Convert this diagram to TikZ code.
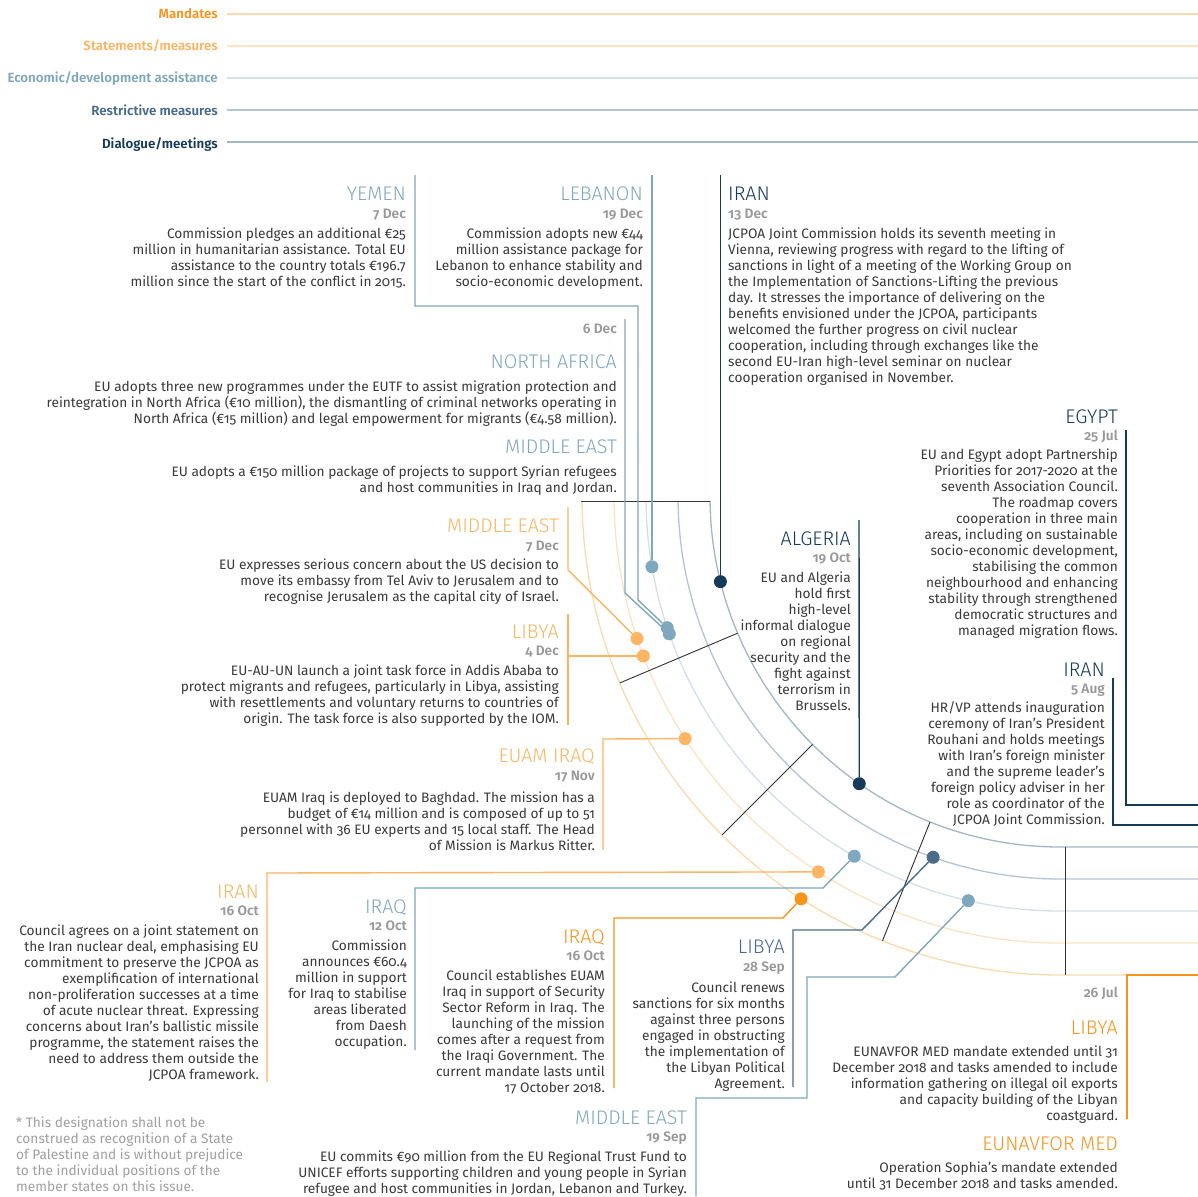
\documentclass[tikz,border=0pt]{standalone}
\usepackage{fontspec}
\setmainfont{Fira Sans}[Numbers=OldStyle]
\newfontfamily\titlef{Fira Sans Light}[Numbers=OldStyle]
\newfontfamily\semif{Fira Sans SemiBold}[Numbers=OldStyle]

\definecolor{mand}{HTML}{F7941D}
\definecolor{stat}{HTML}{FBB563}
\definecolor{econ}{HTML}{7FA7BE}
\definecolor{restr}{HTML}{4A6B89}
\definecolor{dial}{HTML}{163A5A}
\definecolor{mandL}{HTML}{FCD9AE}
\definecolor{statL}{HTML}{FDE3C4}
\definecolor{econL}{HTML}{D3E0E8}
\definecolor{restrL}{HTML}{B4C4D1}
\definecolor{dialL}{HTML}{A3B6C6}
\definecolor{dategrey}{HTML}{999999}
\definecolor{bodygrey}{HTML}{3A3A3A}
\definecolor{notegrey}{HTML}{A0A0A0}
\definecolor{sepgrey}{HTML}{333333}

\newcommand{\rtab}[1]{\begin{tabular}[t]{@{}r@{}}#1\end{tabular}}
\newcommand{\ltab}[1]{\begin{tabular}[t]{@{}l@{}}#1\end{tabular}}

\begin{document}
\begin{tikzpicture}[x=1pt,y=-1pt,
  ttl/.style={font=\titlef\fontsize{19.7}{22}\selectfont, inner sep=0pt, anchor=base east},
  dte/.style={font=\semif\fontsize{13.7}{16}\selectfont, text=dategrey, inner sep=0pt, anchor=base east},
  bdy/.style={font=\fontsize{13.7}{16}\selectfont, text=bodygrey, inner sep=0pt, anchor=base east},
  lgd/.style={font=\semif\fontsize{13.3}{16}\selectfont, inner sep=0pt, anchor=base east},
  legline/.style={line width=1.5pt},
  track/.style={line width=1.3pt},
  link/.style={line width=1.4pt},
  sepline/.style={line width=0.9pt, draw=sepgrey},
  dot/.style={circle, fill=#1, inner sep=0pt, minimum size=13pt},
]
\fill[white] (0,0) rectangle (1198,1196);
\useasboundingbox (0,0) rectangle (1198,1196);

% ---------- legend ----------
\node[lgd, text=mand]  (lgM) at (218,19)  {Mandates};
\node[lgd, text=stat]  (lgS) at (218,51)  {Statements/measures};
\node[lgd, text=econ]  (lgE) at (218,83)  {Economic/development assistance};
\node[lgd, text=restr] (lgR) at (218,116) {Restrictive measures};
\node[lgd, text=dial]  (lgD) at (218,148) {Dialogue/meetings};
\foreach \yy/\c in {14/mandL, 46/statL, 78/econL, 110/restrL, 142/dialL}
  \draw[legline, draw=\c] (227,\yy) -- (1198,\yy);

% ---------- timeline tracks ----------
\foreach \r/\c in {478/mandL, 446/statL, 414/econL, 382/restrL, 350/dialL}
  \draw[track, draw=\c] plot[domain=0.6:90, samples=90, smooth]
     ({1060-\r*cos(\x)},{497+\r*sin(\x)}) -- (1198,{497+\r});

% month separators
\draw[sepline] (581,501) -- (710,501);
\foreach \a in {22.9,45,68.2}
  \draw[sepline] ({1060-350*cos(\a)},{497+350*sin(\a)}) -- ({1060-478*cos(\a)},{497+478*sin(\a)});
\draw[sepline] (1065,847) -- (1065,975);

% ---------- event dots ----------
\node[dot=econ]  (dLeb)  at ({1060-414*cos(9.7)},{497+414*sin(9.7)}) {};
\node[dot=dial]  (dIr13) at ({1060-350*cos(14)},{497+350*sin(14)}) {};
\node[dot=econ]  (dNAf)  at ({1060-414*cos(19.3)},{497+414*sin(19.3)}) {};
\node[dot=econ]  (dYem)  at ({1060-414*cos(18.4)},{497+414*sin(18.4)}) {};
\node[dot=stat]  (dME7)  at ({1060-446*cos(18.5)},{497+446*sin(18.5)}) {};
\node[dot=stat]  (dLib4) at ({1060-446*cos(20.89)},656) {};
\node[dot=stat]  (dEUAM) at ({1060-446*cos(32.8)},{497+446*sin(32.8)}) {};
\node[dot=dial]  (dAlg)  at ({1060-350*cos(55)},{497+350*sin(55)}) {};
\node[dot=stat]  (dIr16) at ({1060-446*cos(57.2)},{497+446*sin(57.2)}) {};
\node[dot=econ]  (dIq12) at ({1060-414*cos(60.2)},{497+414*sin(60.2)}) {};
\node[dot=mand]  (dIq16) at ({1060-478*cos(57.2)},{497+478*sin(57.2)}) {};
\node[dot=restr] (dLy28) at ({1060-382*cos(70.6)},{497+382*sin(70.6)}) {};
\node[dot=econ]  (dME19) at ({1060-414*cos(77.2)},{497+414*sin(77.2)}) {};

% ---------- connector corners ----------
\coordinate (topline) at (0,175);
\coordinate (yemA) at (415,175);
\coordinate (yemB) at (415,306);
\coordinate (yemC) at (638,306);
\coordinate (yemD) at (638,600);
\coordinate (nafA) at (625,319);
\coordinate (nafB) at (625,593);
\coordinate (me7A) at (568,507);
\coordinate (me7B) at (568,570);
\coordinate (ly4A) at (568,614);
\coordinate (ly4B) at (568,725);
\coordinate (ly4C) at (568,656);
\coordinate (euA) at (603,850);
\coordinate (euB) at (603,739);
\coordinate (algA) at (859,520);
\coordinate (egA) at (1126,430);
\coordinate (egB) at (1126,805);
\coordinate (egC) at (1198,805);
\coordinate (ir5A) at (1113,678);
\coordinate (ir5B) at (1113,825);
\coordinate (ir5C) at (1198,825);
\coordinate (ir16A) at (267,1082);
\coordinate (ir16B) at (267,873);
\coordinate (iq12A) at (415,1050);
\coordinate (iq12B) at (415,888);
\coordinate (iq12C) at (823,888);
\coordinate (iq16A) at (614,1088);
\coordinate (iq16B) at (614,918);
\coordinate (iq16C) at (783,918);
\coordinate (ly28A) at (793,1087);
\coordinate (ly28B) at (793,930);
\coordinate (ly28C) at (862,930);
\coordinate (me19A) at (696,1196);
\coordinate (me19B) at (696,1098);
\coordinate (me19C) at (807,1098);
\coordinate (me19D) at (807,977);
\coordinate (me19E) at (895,977);
\coordinate (ly26A) at (1127,1119);
\coordinate (ly26B) at (1127,975);
\coordinate (ly26C) at (1198,975);

% ---------- connectors ----------
\draw[link, draw=econ] (yemA) -- (yemB) -- (yemC) -- (yemD) -- (dYem);
\draw[link, draw=econ] (dLeb |- topline) -- (dLeb);
\draw[link, draw=econ] (nafA) -- (nafB) -- (dNAf);
\draw[link, draw=econ] (iq12A) -- (iq12B) -- (iq12C) -- (dIq12);
\draw[link, draw=econ] (me19A) -- (me19B) -- (me19C) -- (me19D) -- (me19E) -- (dME19);
\draw[link, draw=dial] (dIr13 |- topline) -- (dIr13);
\draw[link, draw=dial] (algA) -- (dAlg);
\draw[link, draw=dial] (egA) -- (egB) -- (egC);
\draw[link, draw=dial] (ir5A) -- (ir5B) -- (ir5C);
\draw[link, draw=restr] (ly28A) -- (ly28B) -- (ly28C) -- (dLy28);
\draw[link, draw=stat] (me7A) -- (me7B) -- (dME7);
\draw[link, draw=stat] (ly4A) -- (ly4B);
\draw[link, draw=stat] (ly4C) -- (dLib4.west);
\draw[link, draw=stat] (euA) -- (euB) -- (dEUAM);
\draw[link, draw=stat] (ir16A) -- (ir16B) -- (dIr16);
\draw[link, draw=mand] (iq16A) -- (iq16B) -- (iq16C) -- (dIq16);
\draw[link, draw=mand] (ly26A) -- (ly26B) -- (ly26C);

% ---------- event texts ----------
% Yemen
\node[ttl, text=econ] (yemT) at (406,200) {YEMEN};
\node[dte] (yemDt) at (406,218) {7 Dec};
\node[bdy] (yemTx) at (406,238) {\rtab{Commission pledges an additional €25\\million in humanitarian assistance. Total EU\\assistance to the country totals €196.7\\million since the start of the conflict in 2015.}};
% Lebanon
\node[ttl, text=econ] (lebT) at (643,200) {LEBANON};
\node[dte] (lebDt) at (643,218) {19 Dec};
\node[bdy] (lebTx) at (643,238) {\rtab{Commission adopts new €44\\million assistance package for\\Lebanon to enhance stability and\\socio-economic development.}};
% Iran 13 Dec
\node[ttl, text=dial, anchor=base west] (ir13T) at (728,200) {IRAN};
\node[dte, anchor=base west] (ir13Dt) at (728,218) {13 Dec};
\node[bdy, anchor=base west] (ir13Tx) at (728,238) {\ltab{JCPOA Joint Commission holds its seventh meeting in\\Vienna, reviewing progress with regard to the lifting of\\sanctions in light of a meeting of the Working Group on\\the Implementation of Sanctions-Lifting the previous\\day. It stresses the importance of delivering on the\\benefits envisioned under the JCPOA, participants\\welcomed the further progress on civil nuclear\\cooperation, including through exchanges like the\\second EU-Iran high-level seminar on nuclear\\cooperation organised in November.}};
% North Africa / Middle East, 6 Dec
\node[dte] (nafDt) at (617,333) {6 Dec};
\node[ttl, text=econ] (nafT) at (617,368) {NORTH AFRICA};
\node[bdy] (nafTx) at (617,391) {\rtab{EU adopts three new programmes under the EUTF to assist migration protection and\\reintegration in North Africa (€10 million), the dismantling of criminal networks operating in\\North Africa (€15 million) and legal empowerment for migrants (€4.58 million).}};
\node[ttl, text=econ] (me6T) at (617,453) {MIDDLE EAST};
\node[bdy] (me6Tx) at (617,476) {\rtab{EU adopts a €150 million package of projects to support Syrian refugees\\and host communities in Iraq and Jordan.}};
% Middle East 7 Dec
\node[ttl, text=stat] (me7T) at (559,532) {MIDDLE EAST};
\node[dte] (me7Dt) at (559,550) {7 Dec};
\node[bdy] (me7Tx) at (559,569) {\rtab{EU expresses serious concern about the US decision to\\move its embassy from Tel Aviv to Jerusalem and to\\recognise Jerusalem as the capital city of Israel.}};
% Libya 4 Dec
\node[ttl, text=stat] (ly4T) at (559,638) {LIBYA};
\node[dte] (ly4Dt) at (559,655) {4 Dec};
\node[bdy] (ly4Tx) at (559,675) {\rtab{EU-AU-UN launch a joint task force in Addis Ababa to\\protect migrants and refugees, particularly in Libya, assisting\\with resettlements and voluntary returns to countries of\\origin. The task force is also supported by the IOM.}};
% EUAM Iraq
\node[ttl, text=stat] (euT) at (595,762) {EUAM IRAQ};
\node[dte] (euDt) at (595,780) {17 Nov};
\node[bdy] (euTx) at (595,802) {\rtab{EUAM Iraq is deployed to Baghdad. The mission has a\\budget of €14 million and is composed of up to 51\\personnel with 36 EU experts and 15 local staff. The Head\\of Mission is Markus Ritter.}};
% Algeria
\node[ttl, text=dial] (algT) at (851,545) {ALGERIA};
\node[dte] (algDt) at (851,562) {19 Oct};
\node[bdy] (algTx) at (851,582) {\rtab{EU and Algeria\\hold first\\high-level\\informal dialogue\\on regional\\security and the\\fight against\\terrorism in\\Brussels.}};
% Egypt
\node[ttl, text=dial] (egT) at (1118,423) {EGYPT};
\node[dte] (egDt) at (1118,440) {25 Jul};
\node[bdy] (egTx) at (1118,459) {\rtab{EU and Egypt adopt Partnership\\Priorities for 2017-2020 at the\\seventh Association Council.\\The roadmap covers\\cooperation in three main\\areas, including on sustainable\\socio-economic development,\\stabilising the common\\neighbourhood and enhancing\\stability through strengthened\\democratic structures and\\managed migration flows.}};
% Iran 5 Aug
\node[ttl, text=dial] (ir5T) at (1105,676) {IRAN};
\node[dte] (ir5Dt) at (1105,693) {5 Aug};
\node[bdy] (ir5Tx) at (1105,712) {\rtab{HR/VP attends inauguration\\ceremony of Iran’s President\\Rouhani and holds meetings\\with Iran’s foreign minister\\and the supreme leader’s\\foreign policy adviser in her\\role as coordinator of the\\JCPOA Joint Commission.}};
% Iran 16 Oct
\node[ttl, text=stat] (ir16T) at (259,898) {IRAN};
\node[dte] (ir16Dt) at (259,915) {16 Oct};
\node[bdy] (ir16Tx) at (259,935) {\rtab{Council agrees on a joint statement on\\the Iran nuclear deal, emphasising EU\\commitment to preserve the JCPOA as\\exemplification of international\\non-proliferation successes at a time\\of acute nuclear threat. Expressing\\concerns about Iran’s ballistic missile\\programme, the statement raises the\\need to address them outside the\\JCPOA framework.}};
% Iraq 12 Oct
\node[ttl, text=econ] (iq12T) at (407,913) {IRAQ};
\node[dte] (iq12Dt) at (407,930) {12 Oct};
\node[bdy] (iq12Tx) at (407,950) {\rtab{Commission\\announces €60.4\\million in support\\for Iraq to stabilise\\areas liberated\\from Daesh\\occupation.}};
% Iraq 16 Oct
\node[ttl, text=mand] (iq16T) at (605,943) {IRAQ};
\node[dte] (iq16Dt) at (605,960) {16 Oct};
\node[bdy] (iq16Tx) at (605,980) {\rtab{Council establishes EUAM\\Iraq in support of Security\\Sector Reform in Iraq. The\\launching of the mission\\comes after a request from\\the Iraqi Government. The\\current mandate lasts until\\17 October 2018.}};
% Libya 28 Sep
\node[ttl, text=restr] (ly28T) at (785,953) {LIBYA};
\node[dte] (ly28Dt) at (785,971) {28 Sep};
\node[bdy] (ly28Tx) at (785,992) {\rtab{Council renews\\sanctions for six months\\against three persons\\engaged in obstructing\\the implementation of\\the Libyan Political\\Agreement.}};
% Middle East 19 Sep
\node[ttl, text=econ] (me19T) at (687,1124) {MIDDLE EAST};
\node[dte] (me19Dt) at (687,1141) {19 Sep};
\node[bdy] (me19Tx) at (687,1161) {\rtab{EU commits €90 million from the EU Regional Trust Fund to\\UNICEF efforts supporting children and young people in Syrian\\refugee and host communities in Jordan, Lebanon and Turkey.}};
% Libya / EUNAVFOR MED, 26 Jul
\node[dte] (ly26Dt) at (1118,997) {26 Jul};
\node[ttl, text=mand] (ly26T) at (1118,1034) {LIBYA};
\node[bdy] (ly26Tx) at (1118,1056) {\rtab{EUNAVFOR MED mandate extended until 31\\December 2018 and tasks amended to include\\information gathering on illegal oil exports\\and capacity building of the Libyan\\coastguard.}};
\node[ttl, text=mand] (enT) at (1118,1150) {EUNAVFOR MED};
\node[bdy] (enTx) at (1118,1172) {\rtab{Operation Sophia’s mandate extended\\until 31 December 2018 and tasks amended.}};

% footnote
\node[bdy, text=notegrey, anchor=base west] (note) at (16,1127) {\ltab{* This designation shall not be\\construed as recognition of a State\\of Palestine and is without prejudice\\to the individual positions of the\\member states on this issue.}};
\end{tikzpicture}
\end{document}
